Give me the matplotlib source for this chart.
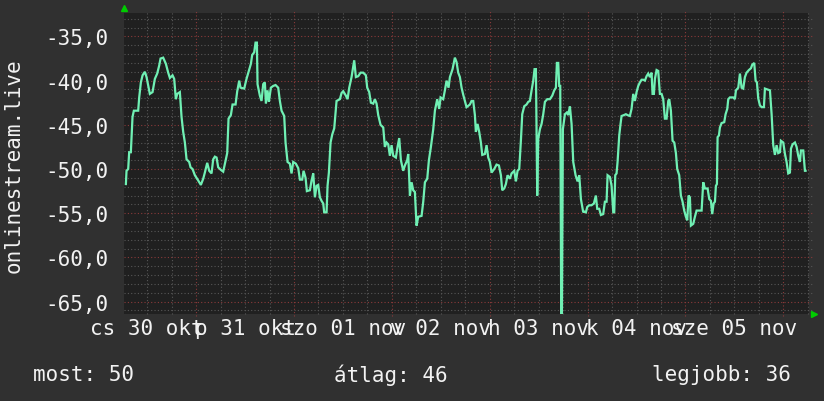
import matplotlib.pyplot as plt

# ---------------- data (hours from 31 okt 00:00, value) ----------------
hours = [
    -17.24, -17.08, -16.67, -16.43, -16.02, -15.61, -15.28, -14.22, -13.97, -13.56,
    -13.15, -12.58, -12.17, -11.36, -10.70, -10.13, -9.56, -9.07, -8.74, -8.09,
    -7.43, -6.86, -6.45, -5.80, -5.39, -4.98, -4.65, -4.00, -3.59, -3.18,
    -2.77, -2.36, -1.71, -1.38, -0.89, -0.32, 0.50, 1.15, 1.73, 2.13,
    2.71, 3.20, 3.77, 4.18, 4.59, 5.00, 5.40, 6.06, 6.63, 7.04,
    7.61, 7.94, 8.51, 8.92, 9.66, 10.07, 10.56,
    10.88, 11.78, 12.35, 12.93, 13.42, 13.74, 14.23, 14.56, 14.89, 15.05,
    15.62, 16.03, 16.44, 16.85, 17.10, 17.50, 17.83, 18.32, 18.89, 19.47,
    20.12, 20.53, 20.94, 21.59, 21.92, 22.41, 22.98, 23.39, 23.80, 24.45,
    25.03, 25.44, 26.01, 26.34, 26.83, 27.15, 27.89, 28.30, 28.71, 29.12,
    29.53, 29.93, 30.34, 30.75, 31.16, 31.40, 31.98, 32.22, 32.55, 32.96,
    33.37, 33.86, 34.43, 35.25, 35.66, 36.06, 36.72, 37.13, 37.54, 38.11, 38.76,
    39.17, 39.74, 40.32, 40.97, 41.62, 41.95, 42.44, 42.85, 43.42, 43.83,
    44.24, 44.65, 45.22, 45.88, 46.28, 46.69, 47.10, 47.51, 47.92, 48.33,
    48.98, 49.39, 49.80, 50.21, 50.78, 51.19, 51.76, 52.01, 52.42, 52.83,
    53.23, 53.64, 54.05, 54.46, 55.28, 55.69, 56.10, 56.67, 57.08, 57.57,
    58.14, 58.55, 59.12, 59.61, 59.94, 60.59, 61.00, 61.41, 61.90, 62.23,
    62.88, 63.45, 63.86, 64.27, 64.68, 65.09, 65.50,
    66.31, 67.13, 67.54, 67.95, 68.36, 68.60, 69.01, 69.42, 69.83, 70.16,
    70.81, 71.22, 71.63, 72.04, 72.45, 73.10, 73.67, 74.25, 74.74, 75.06,
    75.55, 75.96, 76.37, 76.94, 77.35, 78.01, 78.42, 78.82, 79.23, 79.64,
    79.97, 80.46, 81.03, 81.44, 81.85, 82.26, 82.67, 82.99, 83.32, 83.65,
    83.89, 84.30, 84.71, 85.12, 85.53, 86.10, 86.76, 87.33, 87.82, 88.23,
    88.47, 88.80, 89.04, 89.29, 89.53, 89.70, 89.94, 90.43, 90.92, 91.25,
    91.66, 92.07, 92.48, 93.05, 93.54, 93.95, 94.36, 94.93,
    95.09, 95.58, 95.91, 96.40, 96.97, 97.54, 98.03, 98.36, 98.85, 99.26,
    99.83, 100.24, 100.65, 100.90, 101.47, 101.88, 102.29, 102.53, 102.78, 103.10,
    103.35, 103.76, 104.08, 104.33, 104.90, 105.39, 105.80, 106.37, 106.78, 107.19,
    107.60, 108.01, 108.42, 108.83, 109.24, 109.64, 110.05, 110.46, 110.87, 111.28,
    111.69, 111.93, 112.26, 112.51, 112.92, 113.32, 113.73, 114.14, 114.55, 114.96,
    115.37, 115.78, 116.02, 116.43, 116.84, 117.25, 117.66, 117.98, 118.47, 118.88,
    119.29, 119.70, 120.11, 120.44, 120.76, 121.09, 121.34, 121.91, 122.32, 122.73, 123.38,
    123.96, 124.36, 124.77, 125.43, 125.84, 126.24, 126.57, 126.90, 127.23, 127.47,
    127.72, 127.88, 128.21, 128.45, 128.86, 129.51, 129.84, 130.25, 130.50, 130.90,
    131.72, 132.13, 132.38, 132.95, 133.36, 133.77, 134.17, 134.58, 134.99, 135.56,
    136.06, 136.38, 136.87, 137.20, 137.53, 137.85, 138.26, 138.67, 139.24, 139.49,
    140.14, 140.72, 141.13, 141.53, 141.94, 142.35, 142.76, 143.17, 143.41, 143.99,
    144.40, 144.80, 145.21, 145.62, 145.87, 146.28, 146.85, 147.26, 147.67, 148.07,
    148.32, 148.89, 149.30, 149.46,
]
values = [
    -51.7, -50.2, -50.0, -48.1, -48.1, -44.1, -43.4, -43.4, -41.9, -40.2,
    -39.4, -39.0, -39.6, -41.5, -41.3, -39.8, -39.2, -38.3, -37.5, -37.4,
    -38.1, -39.1, -39.7, -39.4, -39.8, -42.1, -41.5, -41.3, -44.1, -45.8,
    -47.0, -48.9, -49.2, -49.8, -50.0, -50.7, -51.3, -51.8, -51.1, -50.4,
    -49.3, -50.2, -50.5, -48.9, -48.6, -48.7, -49.8, -50.1, -50.3, -49.4,
    -48.2, -44.3, -43.9, -42.7, -42.7, -41.2, -40.0,
    -40.8, -40.9, -39.8, -38.9, -38.1, -37.1, -36.8, -35.7, -35.7, -40.4,
    -41.7, -42.3, -40.4, -40.2, -42.6, -41.1, -42.4, -40.8, -40.6, -40.5,
    -40.8, -42.3, -43.4, -44.0, -47.0, -49.2, -49.4, -50.5, -49.2, -49.4,
    -49.9, -51.2, -51.2, -50.2, -51.0, -52.5, -52.4, -51.3, -50.5, -53.2,
    -51.9, -51.8, -53.2, -53.6, -53.9, -54.9, -54.9, -51.9, -50.4, -47.0,
    -46.1, -45.4, -42.3, -42.1, -41.4, -41.2, -41.7, -42.1, -40.8, -39.6, -37.7,
    -39.6, -39.5, -39.1, -39.1, -39.4, -40.8, -41.3, -42.5, -42.6, -42.1,
    -42.6, -43.9, -45.0, -45.3, -47.5, -47.0, -47.2, -48.5, -47.3, -48.5,
    -48.7, -47.5, -46.5, -49.0, -50.2, -49.6, -49.0, -48.3, -53.0, -51.5,
    -52.4, -52.6, -56.4, -55.4, -55.3, -53.7, -51.5, -51.1, -49.0, -47.5,
    -45.5, -43.4, -42.1, -43.2, -41.9, -42.1, -41.1, -40.0, -40.8, -39.6,
    -38.7, -37.4, -37.9, -39.1, -39.6, -40.8, -41.6,
    -43.0, -42.7, -42.3, -42.3, -43.9, -45.8, -44.9, -45.8, -47.0, -48.4,
    -48.3, -47.3, -48.7, -49.2, -50.4, -50.0, -49.5, -49.6, -50.7, -52.4,
    -52.2, -51.7, -50.7, -51.1, -50.5, -50.2, -51.4, -50.2, -50.0, -46.8,
    -43.8, -42.9, -42.7, -42.4, -42.3, -41.1, -40.0, -38.7, -38.7, -53.0,
    -46.6, -45.5, -44.9, -43.8, -42.4, -42.1, -42.1, -41.7, -41.1, -40.8,
    -38.0, -38.0, -40.6, -40.6, -66.4, -66.4, -45.5, -43.8, -43.6, -43.9,
    -42.9, -44.9, -49.2, -50.7, -51.4, -50.7, -53.4, -54.9,
    -54.8, -54.9, -54.3, -54.1, -54.1, -53.9, -53.0, -54.5, -54.5, -55.2,
    -55.1, -53.7, -53.7, -50.7, -50.9, -51.9, -54.9, -54.9, -50.7, -50.5,
    -49.2, -46.2, -44.9, -44.0, -43.9, -43.8, -43.9, -44.0, -43.2, -41.5,
    -42.3, -41.3, -40.6, -40.2, -39.9, -39.9, -40.0, -39.5, -39.2, -39.6,
    -39.1, -41.5, -41.5, -39.8, -38.8, -38.9, -41.5, -41.5, -42.1, -44.3,
    -44.3, -42.3, -42.1, -43.4, -46.8, -47.0, -48.2, -50.0, -50.7, -53.0,
    -53.7, -54.7, -55.4, -55.8, -53.0, -53.2, -56.4, -56.2, -55.4, -54.7, -54.7,
    -54.7, -51.5, -52.2, -52.2, -53.4, -53.6, -55.1, -53.9, -53.7, -51.9,
    -51.7, -46.4, -46.2, -45.3, -44.8, -44.7, -43.8, -43.2, -42.1, -41.9,
    -41.9, -42.1, -41.1, -40.8, -39.2, -40.8, -40.9, -39.6, -39.1, -38.8,
    -38.6, -38.2, -38.0, -40.0, -40.2, -42.0, -42.8, -43.0, -43.0, -40.9,
    -41.0, -41.1, -43.8, -47.3, -48.4, -47.3, -48.2, -48.1, -46.8, -47.0,
    -48.3, -49.2, -50.5, -50.4, -47.7, -47.2, -47.0, -47.5, -48.5, -49.2,
    -47.9, -47.9, -50.2, -50.2,
]

day_label_hours = [-12, 12, 36, 60, 84, 108, 132]
day_labels = ["cs 30 okt", "p 31 okt", "szo 01 nov", "v 02 nov",
              "h 03 nov", "k 04 nov", "sze 05 nov"]
y_ticks = [-65, -60, -55, -50, -45, -40, -35]

legend_now = "most: 50"
legend_avg = "átlag: 46"
legend_max = "legjobb: 36"
y_title = "onlinestream.live"

# ---------------- style ----------------
BG = "#303030"
PLOT_BG = "#202020"
LINE = "#70f0b4"
TXT = "#f2f2f2"
MINOR = "#575757"
MAJOR = "#8a3a3a"
FONT = "DejaVu Sans Mono"
FS = 15

fig = plt.figure(figsize=(8.24, 4.02), dpi=100, facecolor=BG)
ax = fig.add_axes([124 / 824, 1 - 315 / 402, 685 / 824, 301 / 402])
ax.set_facecolor(PLOT_BG)

x_min, x_max = -17.7, 150.3
y_min, y_max = -66.4, -32.35

# grid drawn by hand: minor every 6h / 1 unit, major every 24h / 5 units,
# with the little stubs sticking out of the plot area like rrdtool does
h = -12
while h <= x_max:
    major = (h % 24 == 0)
    ax.axvline(h, ymin=-0.008 if major else 0, ymax=1.008,
               color=MAJOR if major else MINOR, lw=0.8,
               ls=(0, (1, 2)), zorder=1, clip_on=False)
    h += 6
v = -66
while v <= y_max:
    major = (v % 5 == 0)
    ax.axhline(v, xmin=0, xmax=1.005, color=MAJOR if major else MINOR, lw=0.8,
               ls=(0, (1, 2)), zorder=1, clip_on=False)
    v += 1

ax.plot(hours, values, color=LINE, lw=1.6, zorder=3, solid_joinstyle="miter")

ax.set_xticks(day_label_hours)
ax.set_xticklabels(day_labels, fontfamily=FONT, fontsize=FS, color=TXT)
ax.set_yticks(y_ticks)
ax.set_yticklabels([f"{t:.1f}".replace(".", ",") for t in y_ticks],
                   fontfamily=FONT, fontsize=FS, color=TXT)
ax.tick_params(axis="x", length=0, pad=3)
ax.tick_params(axis="y", length=0, pad=11)

for s in ax.spines.values():
    s.set_visible(False)

# little green arrows of the axes
ax.plot([0], [1.015], marker="^", color="#00cc00", ms=5, transform=ax.transAxes,
        clip_on=False, zorder=5)
ax.plot([1.007], [0.0], marker=">", color="#00cc00", ms=5, transform=ax.transAxes,
        clip_on=False, zorder=5)
ax.set_xlim(x_min, x_max)
ax.set_ylim(y_min, y_max)

fig.text(14 / 824, 1 - 166 / 402, y_title, rotation=90, ha="center", va="center",
         fontfamily=FONT, fontsize=FS, color=TXT)

fig.text(33 / 824, 1 - 375 / 402, legend_now, ha="left", va="center",
         fontfamily=FONT, fontsize=FS, color=TXT)
fig.text(334 / 824, 1 - 375 / 402, legend_avg, ha="left", va="center",
         fontfamily=FONT, fontsize=FS, color=TXT)
fig.text(791 / 824, 1 - 375 / 402, legend_max, ha="right", va="center",
         fontfamily=FONT, fontsize=FS, color=TXT)

fig.savefig("out.png", dpi=100, facecolor=BG)
